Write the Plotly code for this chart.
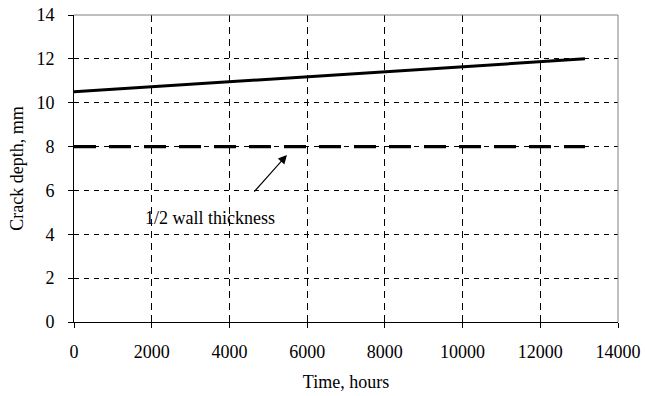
import plotly.graph_objects as go

time_hours = [0, 13150]
crack_depth = [10.5, 12.0]
half_wall = [8.0, 8.0]
x_ticks = [0, 2000, 4000, 6000, 8000, 10000, 12000, 14000]
y_ticks = [0, 2, 4, 6, 8, 10, 12, 14]

FONT = "Liberation Serif"

fig = go.Figure()
fig.add_trace(go.Scatter(x=time_hours, y=crack_depth, mode="lines",
                         line=dict(color="black", width=3), showlegend=False))
fig.add_trace(go.Scatter(x=time_hours, y=half_wall, mode="lines",
                         line=dict(color="black", width=3.2, dash="22px,13px"), showlegend=False))

fig.add_annotation(x=3500, y=4.74, xref="x", yref="y", text="1/2 wall thickness",
                   showarrow=False, font=dict(family=FONT, size=18, color="black"))
fig.add_annotation(x=5480, y=7.62, xref="x", yref="y", ax=4607, ay=5.88,
                   axref="x", ayref="y", text="", showarrow=True,
                   arrowhead=2, arrowsize=1.6, arrowwidth=1.1, arrowcolor="black")

# gray top/right frame
fig.add_shape(type="line", xref="paper", yref="paper", x0=0, x1=1, y0=1, y1=1,
              line=dict(color="#808080", width=1))
fig.add_shape(type="line", xref="paper", yref="paper", x0=1, x1=1, y0=0, y1=1,
              line=dict(color="#808080", width=1))

fig.update_layout(
    width=645, height=396,
    margin=dict(l=74, r=27, t=15, b=74),
    paper_bgcolor="white", plot_bgcolor="white",
    font=dict(family=FONT, size=18, color="black"),
    xaxis=dict(range=[0, 14000], tickvals=x_ticks, ticktext=[str(v) for v in x_ticks],
               showgrid=True, gridcolor="black", gridwidth=1, griddash="7px,5px",
               showline=True, linecolor="black", linewidth=1,
               ticks="outside", ticklen=5, tickcolor="black",
               zeroline=False, automargin=False, ticklabelstandoff=8,
               ticklabeloverflow="allow",
               title=dict(text="Time, hours", font=dict(family=FONT, size=18), standoff=14),
               tickfont=dict(family=FONT, size=18)),
    yaxis=dict(range=[0, 14], tickvals=y_ticks, ticktext=[str(v) for v in y_ticks],
               showgrid=True, gridcolor="black", gridwidth=1, griddash="5px,5px",
               showline=True, linecolor="black", linewidth=1,
               ticks="outside", ticklen=5, tickcolor="black",
               zeroline=False, automargin=False, ticklabelstandoff=10,
               ticklabeloverflow="allow",
               title=dict(text="Crack depth, mm", font=dict(family=FONT, size=18), standoff=8),
               tickfont=dict(family=FONT, size=18)),
)

fig.write_html("out.html", config={"displayModeBar": False},
               post_script="document.body.style.margin='0px';document.body.style.overflow='hidden';")
